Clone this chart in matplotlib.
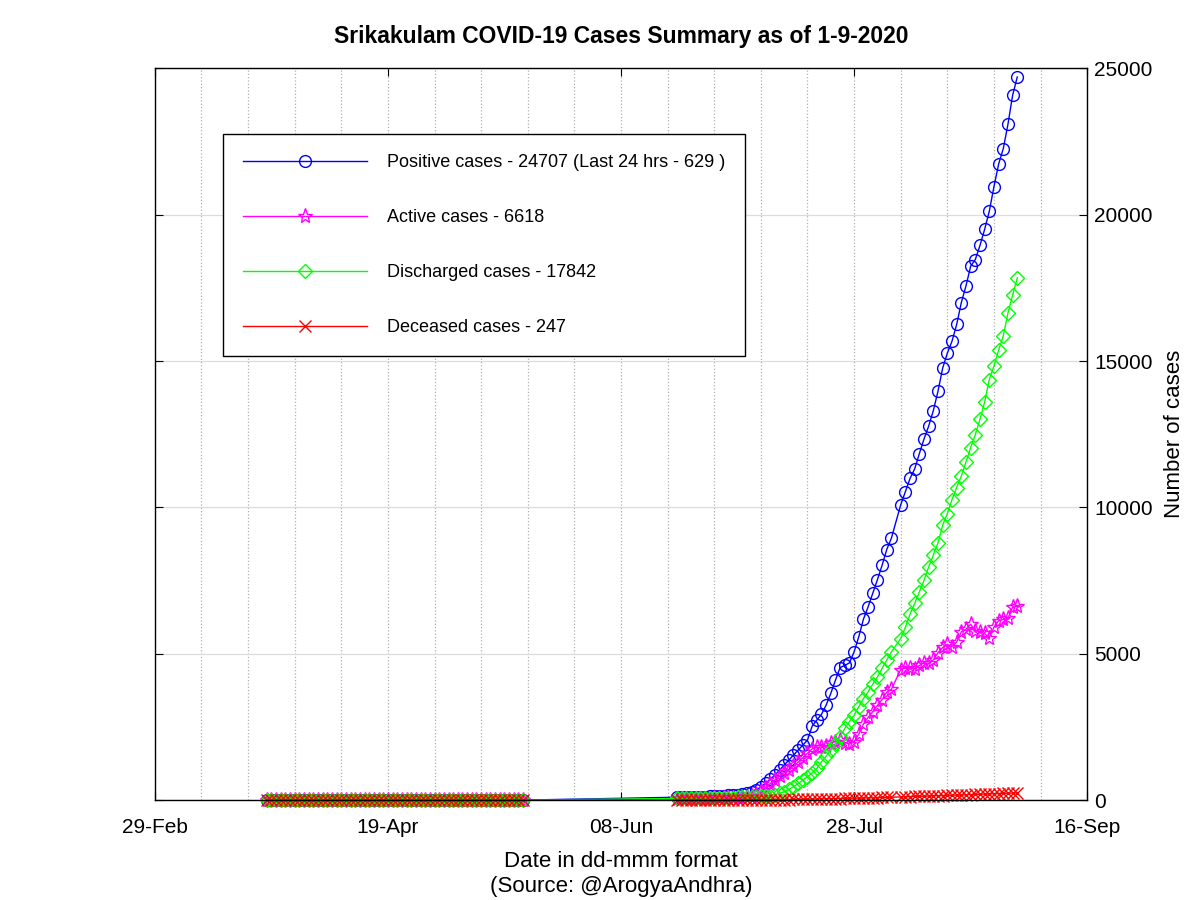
#!/usr/bin/env python3
"""
Srikakulam COVID-19 cases summary as of 1-9-2020.

Re-draws the Octave-style district chart: four cumulative series
against date, y axis on the right, dotted 10-day vertical grid.
"""

import numpy as np
import pandas as pd
import matplotlib
matplotlib.use("Agg")
import matplotlib.pyplot as plt
import matplotlib.dates as mdates

plt.rcParams["font.family"] = ["Liberation Sans", "DejaVu Sans"]

# --- Data -----------------------------------------------------------------
# first block of reports (all values at zero), then a gap, then daily data
dates1 = pd.date_range("2020-03-24", "2020-05-18")
dates2 = pd.date_range("2020-06-20", "2020-09-01").drop(pd.Timestamp("2020-08-06"))

zeros1 = np.zeros(len(dates1))

positive2 = [95, 100, 104, 110, 113, 118, 122, 128, 135,
             142, 150, 160, 172, 190, 205, 229, 273, 342, 455,
             570, 707, 854, 1025, 1195, 1366, 1537, 1708, 1878, 2049,
             2527, 2732, 2930, 3245, 3644, 4098, 4530, 4600, 4690, 5065,
             5580, 6180, 6600, 7060, 7530, 8020, 8560, 8950,
             10090, 10540, 10990, 11320, 11840, 12340, 12780, 13310, 13975, 14760, 15270,
             15680, 16250, 17000, 17570, 18240, 18470, 18950, 19500, 20120, 20960,
             21730, 22260, 23090, 24080, 24707]

active2 = [39, 43, 43, 47, 45, 48, 50, 52, 57,
           60, 67, 71, 80, 92, 103, 119, 156, 216, 318,
           430, 560, 690, 820, 940, 1040, 1150, 1300, 1450, 1600,
           1750, 1800, 1820, 1850, 1950, 2000, 2050, 1960, 1930, 2000,
           2250, 2600, 2824, 3021, 3236, 3431, 3687, 3787,
           4462, 4528, 4522, 4476, 4602, 4696, 4671, 4794, 5034, 5215, 5319,
           5244, 5400, 5754, 5838, 6007, 5787, 5740, 5694, 5539, 5912,
           6136, 6171, 6215, 6589, 6618]

discharged2 = [55, 56, 60, 61, 66, 68, 70, 73, 75,
               79, 80, 85, 88, 93, 97, 104, 110, 118, 128,
               140, 155, 190, 229, 283, 365, 455, 570, 683, 796,
               933, 1082, 1309, 1500, 1700, 1900, 2160, 2450, 2680, 2900,
               3190, 3470, 3700, 3960, 4210, 4500, 4780, 5065,
               5520, 5900, 6350, 6720, 7110, 7510, 7970, 8370, 8790, 9390, 9790,
               10270, 10680, 11070, 11550, 12045, 12490, 13010, 13600, 14370, 14830,
               15370, 15860, 16640, 17250, 17842]

deceased2 = [1, 1, 1, 2, 2, 2, 2, 3, 3,
             3, 3, 4, 4, 5, 5, 6, 7, 8, 9,
             10, 12, 13, 16, 18, 19, 22, 24, 27, 30,
             32, 36, 39, 41, 45, 48, 52, 55, 60, 64,
             67, 72, 76, 79, 84, 89, 93, 98,
             108, 112, 118, 124, 128, 134, 139, 146, 151, 155, 161,
             166, 170, 176, 182, 188, 193, 200, 206, 211, 218,
             224, 229, 235, 241, 247]

labels = ["Positive cases - 24707 (Last 24 hrs - 629 )",
          "Active cases - 6618",
          "Discharged cases - 17842",
          "Deceased cases - 247"]

x_major = ["2020-02-29", "2020-04-19", "2020-06-08", "2020-07-28", "2020-09-16"]
y_ticks = [0, 5000, 10000, 15000, 20000, 25000]


def plot():
    fig = plt.figure(figsize=(12, 9), dpi=100)
    ax = fig.add_axes([0.129, 0.111, 0.777, 0.813])

    dates = dates1.append(dates2)
    series = [
        (positive2, "#0000ff", "o", 8.5),
        (active2, "#ff00ff", "*", 11),
        (discharged2, "#00ff00", "D", 7.2),
        (deceased2, "#ff0000", "x", 8.5),
    ]
    for (vals, color, marker, ms), label in zip(series, labels):
        y = np.concatenate([zeros1, vals])
        ax.plot(dates, y, color=color, marker=marker, markersize=ms,
                markerfacecolor="none", markeredgecolor=color,
                markeredgewidth=1.0, linewidth=1.0, label=label, clip_on=False)

    # x axis: dates, major every 50 days, dotted grid every 10 days
    start = pd.Timestamp(x_major[0])
    ax.set_xlim(start, pd.Timestamp(x_major[-1]))
    ax.set_xticks([pd.Timestamp(d) for d in x_major])
    ax.xaxis.set_major_formatter(mdates.DateFormatter("%d-%b"))
    ax.set_xticks(pd.date_range(start, x_major[-1], freq="10D"), minor=True)
    ax.grid(True, which="minor", axis="x", linestyle=":", color="#b0b0b0", linewidth=0.9)
    ax.grid(True, which="major", axis="x", linestyle=":", color="#b0b0b0", linewidth=0.9)

    # y axis on the right
    ax.set_ylim(0, 25000)
    ax.set_yticks(y_ticks)
    ax.grid(True, which="major", axis="y", linestyle="-", color="#dcdcdc", linewidth=0.9)
    ax.yaxis.tick_right()
    ax.yaxis.set_label_position("right")
    ax.set_ylabel("Number of cases", fontsize=16, labelpad=8)

    ax.tick_params(which="major", direction="in", length=6, labelsize=15,
                   top=True, right=True, left=True)
    ax.tick_params(axis="x", which="major", pad=13)
    ax.tick_params(axis="y", which="major", pad=5)
    ax.tick_params(which="minor", length=0)
    ax.set_axisbelow(True)
    for sp in ax.spines.values():
        sp.set_color("black")
        sp.set_linewidth(1.0)

    ax.set_xlabel("Date in dd-mmm format\n(Source: @ArogyaAndhra)", fontsize=16,
                  labelpad=10, linespacing=1.25)
    ax.set_title("Srikakulam COVID-19 Cases Summary as of 1-9-2020",
                 fontsize=16.5, fontweight="bold", pad=18)

    leg = ax.legend(loc="upper left", bbox_to_anchor=(0.073, 0.91),
                    borderaxespad=0, fontsize=13, handlelength=6.9,
                    handletextpad=1.1, labelspacing=2.1, borderpad=1.1,
                    fancybox=False, framealpha=1, edgecolor="black")
    leg.get_frame().set_linewidth(1.0)

    fig.savefig("out.png", dpi=100)


if __name__ == "__main__":
    plot()
